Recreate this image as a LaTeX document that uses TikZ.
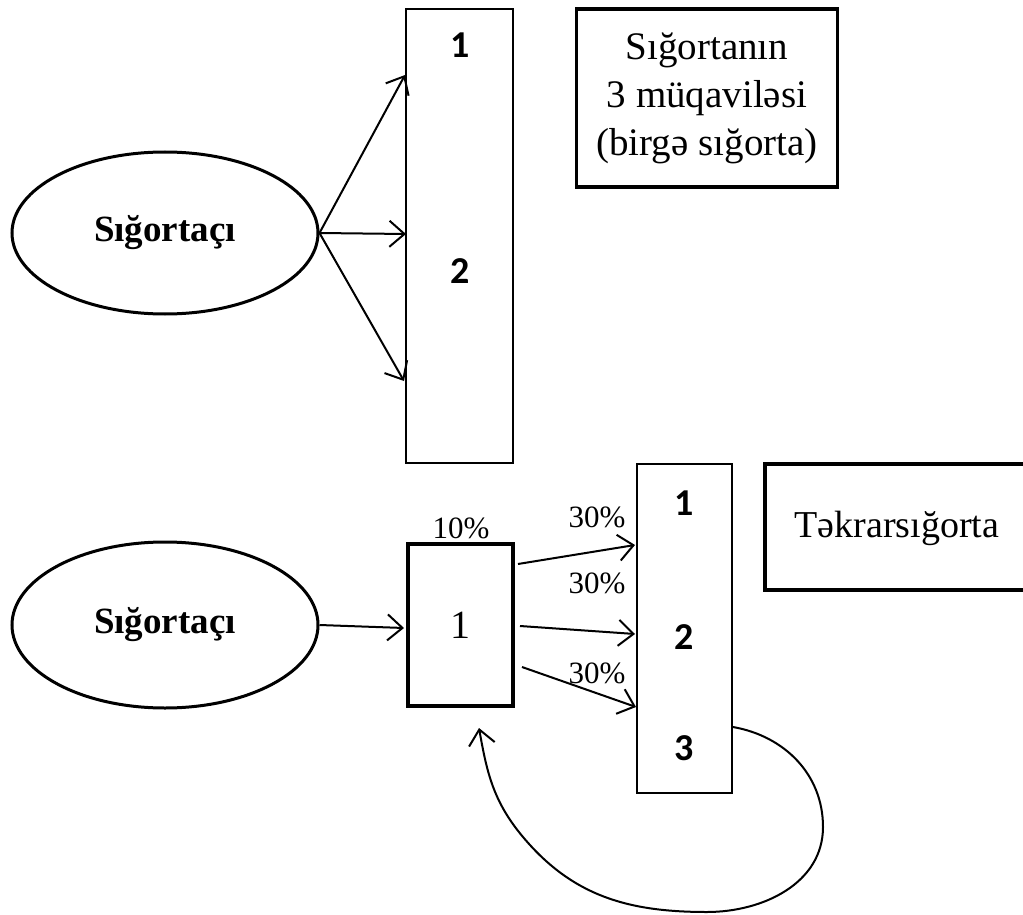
\documentclass[tikz,border=0pt]{standalone}
\usepackage{fontspec}
\setmainfont{Liberation Serif}
\newfontfamily\numfont{Carlito}
\usetikzlibrary{shapes.geometric,arrows.meta}

\tikzset{
  oval/.style={draw, ellipse, line width=3pt, minimum width=306pt, minimum height=162pt, inner sep=0pt, font=\fontsize{37}{40}\selectfont\bfseries},
  bar/.style={draw, line width=2pt, inner sep=0pt},
  thickbox/.style={draw, line width=3.5pt, inner sep=0pt},
  num/.style={font=\fontsize{38}{40}\selectfont\numfont\bfseries},
  pct/.style={font=\fontsize{31}{33}\selectfont},
  arr/.style={line width=2pt, -{Straight Barb[length=15pt,width=26pt,line width=2pt]}},
}

\begin{document}
\begin{tikzpicture}[x=1pt,y=-1pt]
                    % pixel grid of the reference, y downwards
                    \clip (0,0) rectangle (1023,915);

                    % birga sigorta
                    \node[oval] (insA) at (165,233) {Sığortaçı};
                    \node[bar, minimum width=107pt, minimum height=454pt] (contr) at (459.5,236) {};
                    \node[num] (c1) at (460,45) {1};
                    \node[num] (c2) at (460,271) {2};
                    \coordinate (cA) at (405,75);
                    \coordinate (cB) at (406,234);
                    \coordinate (cC) at (404,381);
                    \draw[arr] (insA.east) -- (cA);
                    \draw[arr] (insA.east) -- (cB);
                    \draw[arr] (insA.east) -- (cC);
                    \node[thickbox, minimum width=261pt, minimum height=178pt, align=center,
                          font=\fontsize{39}{48}\selectfont] (info) at (707,98)
                          {Sığortanın\\3 müqaviləsi\\(birgə sığorta)};

                    % tekrarsigorta
                    \node[oval, minimum height=166pt] (insB) at (165,625) {Sığortaçı};
                    \node[thickbox, minimum width=105pt, minimum height=162pt,
                          font=\fontsize{40}{44}\selectfont] (share) at (460.5,625) {1};
                    \node[pct] (own) at (461,528) {10\%};
                    \node[bar, minimum width=95pt, minimum height=329pt] (reins) at (684.5,628.5) {};
                    \node[num] (r1) at (684,503) {1};
                    \node[num] (r2) at (684,637) {2};
                    \node[num] (r3) at (684,748) {3};
                    \node[thickbox, minimum width=275pt, minimum height=126pt] (rbox) at (902.5,527) {};
                    \node[font=\fontsize{38}{42}\selectfont] (rtext) at (897,528) {Təkrarsığorta};

                    \coordinate (sIn) at (404,628);
                    \draw[arr] (insB.east) -- (sIn);
                    \coordinate (s1) at (518,564);  \coordinate (t1) at (635,545);
                    \coordinate (s2) at (520,626);  \coordinate (t2) at (635,634);
                    \coordinate (s3) at (522,667);  \coordinate (t3) at (636,707);
                    \draw[arr] (s1) -- (t1);
                    \draw[arr] (s2) -- (t2);
                    \draw[arr] (s3) -- (t3);
                    \node[pct] (p1) at (597,517) {30\%};
                    \node[pct] (p2) at (597,583) {30\%};
                    \node[pct] (p3) at (597,673) {30\%};

                    % retrocession loop
                    \coordinate (back) at (733,727);
                    \coordinate (home) at (479,728);
                    \draw[arr] (back) to[out=-10,in=90] (823,827) to[out=-90,in=0] (707,912)
                               to[out=180,in=-50] (523,837) to[out=130,in=-80] (home);
\end{tikzpicture}
\end{document}
